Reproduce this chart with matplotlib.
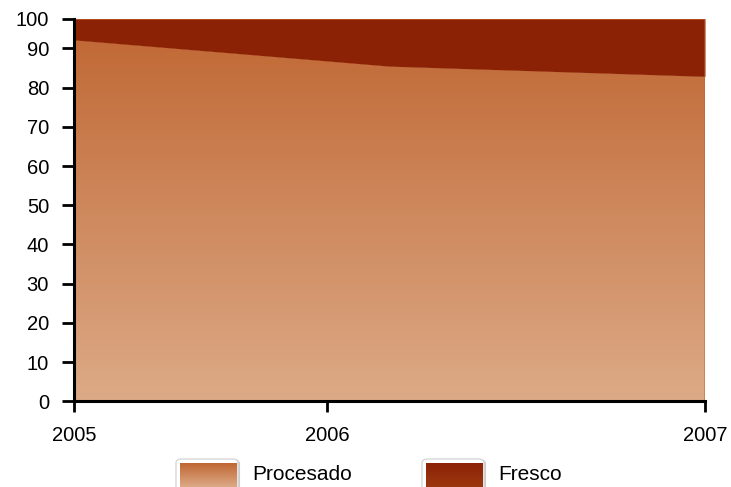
import numpy as np
import matplotlib
matplotlib.use("Agg")
import matplotlib.pyplot as plt
from matplotlib.colors import LinearSegmentedColormap
from matplotlib.patches import FancyBboxPatch

plt.rcParams["font.family"] = ["Liberation Sans", "DejaVu Sans"]

# data
x_pos = [0.0, 0.5, 1.0]               # sample positions along the axis
procesado = [92.2, 85.5, 82.9]
fresco = [5.4, 12.1, 14.7]
year_ticks = [0.0, 0.401, 1.0]
year_labels = ["2005", "2006", "2007"]
y_ticks = [0, 10, 20, 30, 40, 50, 60, 70, 80, 90, 97.6]
y_labels = ["0", "10", "20", "30", "40", "50", "60", "70", "80", "90", "100"]

proc_top = "#c06632"
proc_bot = "#dcaa87"
fresco_col = "#8b2206"

W, H = 731, 487
fig = plt.figure(figsize=(W / 100, H / 100), dpi=100)
ax = fig.add_axes([74 / W, 1 - 401.3 / H, (705 - 74) / W, (401.3 - 18.7) / H])

total = np.array(procesado) + np.array(fresco)
ymax = total.max()

# procesado: gradient clipped to the area
poly = ax.fill_between(x_pos, 0, procesado, color="none", lw=0)
grad_cmap = LinearSegmentedColormap.from_list("proc", [proc_bot, proc_top])
grad = np.linspace(0, 1, 256).reshape(-1, 1)
img = ax.imshow(grad, cmap=grad_cmap, origin="lower", aspect="auto",
                extent=[0, 1, 0, ymax], zorder=1)
img.set_clip_path(poly.get_paths()[0], transform=ax.transData)

# fresco stacked on top
ax.fill_between(x_pos, procesado, total, color=fresco_col, lw=0, zorder=2)
ax.plot(x_pos, total, color="#b84a1c", lw=1.2, zorder=3)
ax.plot([1, 1], [0, total[-1]], color="#c0642a", lw=1.2, zorder=3, alpha=0.6)

ax.set_xlim(0, 1)
ax.set_ylim(0, ymax)
ax.set_yticks(y_ticks)
ax.set_yticklabels(y_labels)
ax.set_xticks(year_ticks)
ax.set_xticklabels(year_labels)
ax.tick_params(axis="y", length=9, width=2, pad=9, labelsize=14.5)
ax.tick_params(axis="x", length=8, width=2, pad=10, labelsize=14.5)
for s in ["top", "right"]:
    ax.spines[s].set_visible(False)
for s in ["left", "bottom"]:
    ax.spines[s].set_linewidth(2.2)
    ax.spines[s].set_zorder(5)

# legend drawn by hand (partly cut off at the bottom, as in the reference)
def swatch(x0, c_top, c_bot, label):
    sw, sh = 62 / W, 34 / H
    y0 = 1 - (459 + 34) / H
    shadow = FancyBboxPatch((x0 + 1 / W, y0 - 1 / H), sw, sh,
                            boxstyle="round,pad=0,rounding_size=0.008",
                            transform=fig.transFigure, fc="#dddddd", ec="#cccccc",
                            lw=1.5, zorder=1)
    frame = FancyBboxPatch((x0, y0), sw, sh,
                           boxstyle="round,pad=0,rounding_size=0.008",
                           transform=fig.transFigure, fc="white", ec="#d8d8d8",
                           lw=1, zorder=2)
    fig.add_artist(shadow)
    fig.add_artist(frame)
    lax = fig.add_axes([x0 + 4 / W, 0, 57 / W, 1 - 463 / H], zorder=3)
    cm = LinearSegmentedColormap.from_list("sw", [c_bot, c_top])
    lax.imshow(grad, cmap=cm, origin="lower", aspect="auto", extent=[0, 1, 0, 1])
    lax.set_axis_off()
    fig.text(x0 + 76 / W, 1 - 474 / H, label, fontsize=15, va="center", ha="left")

swatch(176 / W, proc_top, proc_bot, "Procesado")
swatch(422 / W, fresco_col, "#9c3810", "Fresco")

fig.savefig("out.png", dpi=100)
